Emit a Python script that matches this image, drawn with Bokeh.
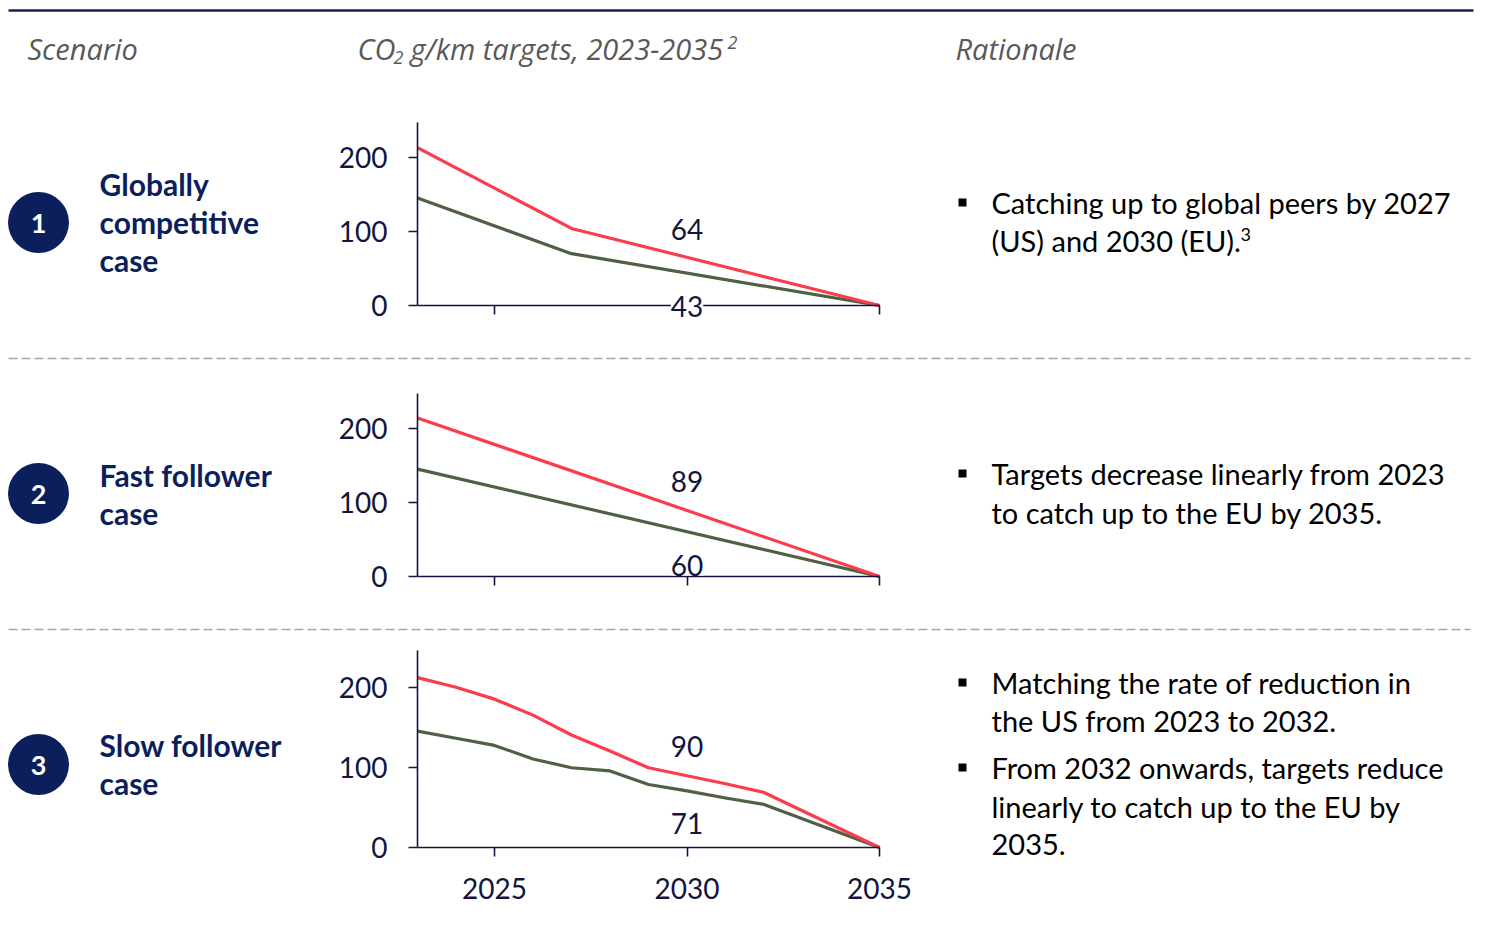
from bokeh.plotting import figure
from bokeh.layouts import column, row
from bokeh.models import Range1d, ColumnDataSource, LabelSet, FixedTicker
from bokeh.core.properties import value
from bokeh.embed import file_html
from bokeh.resources import INLINE

# ---------------- data ----------------
header_scenario = "Scenario"
header_chart = ["CO", "2", "g/km targets, 2023-2035", "2"]
header_rationale = "Rationale"

scenario_numbers = ["1", "2", "3"]
scenario_names = [["Globally", "competitive", "case"],
                  ["Fast follower", "case"],
                  ["Slow follower", "case"]]

rationale = [
    [["Catching up to global peers by 2027", "(US) and 2030 (EU)."]],
    [["Targets decrease linearly from 2023", "to catch up to the EU by 2035."]],
    [["Matching the rate of reduction in", "the US from 2023 to 2032."],
     ["From 2032 onwards, targets reduce", "linearly to catch up to the EU by", "2035."]],
]
footnote_row1 = "3"

years_1 = [2023, 2027, 2035]
red_1 = [213, 104, 0]
green_1 = [145, 70, 0]

years_2 = [2023, 2035]
red_2 = [214, 0]
green_2 = [145, 0]

years_3 = [2023, 2024, 2025, 2026, 2027, 2028, 2029, 2030, 2031, 2032, 2035]
red_3 = [213, 201, 186, 166, 141, 121, 100, 90, 80, 69, 0]
green_3 = [146, 137, 128, 111, 100, 96, 79, 71, 62, 54, 0]

label_year = 2030
label_red = [64, 89, 90]
label_green = [43, 60, 71]

y_ticks = [0, 100, 200]
x_ticks = [2025, 2030, 2035]
X_START, X_END = 2023, 2035
Y_TOP = 247

# ---------------- style / layout ----------------
NAVY = "#0A1F5C"
AXIS = "#111540"
RED = "#FA3C4C"
GREEN = "#4F6044"
GREY_TXT = "#595959"
BODY_FONT = "Lato"
HEAD_FONT = "Open Sans"

W = 1485
LEFT_W, CHART_W, RIGHT_W = 330, 600, 555
HEADER_H, SEP_H = 108, 10
row_h = [244, 261, 285]
frame_top = [14, 31, 17]          # px from row top to top of y-axis
axis_px = [183, 183, 197]         # px height of the 0..Y_TOP axis
below_px = [26, 26, 60]           # frame extension below y=0
AXIS_LEFT = 87                    # px from chart left to y-axis
AXIS_W = 462                      # px width of the 2023..2035 axis
FRAME_W = 508                     # frame width incl. room for last tick label
circle_y = [114, 131, 131]
name_y0 = [75, 112, 111]
rat_y = [[[94, 132]], [[111, 150]], [[49, 87], [134, 173, 211]]]
LINE = 38


def text_fig(w, h, top=0, bottom=0):
    p = figure(width=w, height=h, x_range=Range1d(0, w), y_range=Range1d(h - bottom, top),
               x_axis_location=None, y_axis_location=None,
               output_backend="svg", toolbar_location=None, min_border=0,
               min_border_top=top, min_border_bottom=bottom)
    p.grid.visible = False
    p.outline_line_color = None
    return p


def txt(p, x, y, s, size, color="black", style="normal", font=BODY_FONT, align="left"):
    p.text(x=[x], y=[y], text=[s], text_font=value(font), text_font_size=value(size),
           text_font_style=style, text_color=color, text_align=align, text_baseline="middle")


# header
header = text_fig(W, HEADER_H)
header.line(x=[8, 1473], y=[10, 10], line_color="#14204F", line_width=2.5)
txt(header, 27, 48, header_scenario, "29px", GREY_TXT, "italic", HEAD_FONT)
txt(header, 357, 48, header_chart[0], "29px", GREY_TXT, "italic", HEAD_FONT)
txt(header, 393, 57, header_chart[1], "18px", GREY_TXT, "italic", HEAD_FONT)
txt(header, 410, 48, header_chart[2], "29px", GREY_TXT, "italic", HEAD_FONT)
txt(header, 727, 42, header_chart[3], "18px", GREY_TXT, "italic", HEAD_FONT)
txt(header, 955, 48, header_rationale, "29px", GREY_TXT, "italic", HEAD_FONT)


def sep_fig():
    p = text_fig(W, SEP_H)
    p.line(x=[8, 1470], y=[4, 4], line_color="#A6A6A6", line_width=1.5, line_dash="9 4")
    return p


series = [(years_1, red_1, green_1), (years_2, red_2, green_2), (years_3, red_3, green_3)]
x_end_frame = X_START + (X_END - X_START) * FRAME_W / AXIS_W

rows = []
for i in range(3):
    h = row_h[i]
    top = frame_top[i]
    bottom = h - top - axis_px[i] - below_px[i]
    y_start = -below_px[i] * Y_TOP / axis_px[i]

    # left
    lp = text_fig(LEFT_W, h, top, bottom)
    lp.scatter(x=[38], y=[circle_y[i]], size=61, marker="circle", fill_color=NAVY, line_color=None)
    txt(lp, 38, circle_y[i] + 1, scenario_numbers[i], "27px", "white", "bold", align="center")
    for k, s in enumerate(scenario_names[i]):
        txt(lp, 99, name_y0[i] + k * LINE, s, "30px", NAVY, "bold")

    # chart
    yrs, red, green = series[i]
    cp = figure(width=CHART_W, height=h, x_range=Range1d(X_START, x_end_frame),
                y_range=Range1d(y_start, Y_TOP),
                output_backend="svg", toolbar_location=None,
                min_border_left=AXIS_LEFT, min_border_right=CHART_W - AXIS_LEFT - FRAME_W,
                min_border_top=top, min_border_bottom=bottom)
    cp.grid.visible = False
    cp.outline_line_color = None
    cp.line(yrs, green, line_color=GREEN, line_width=3.2, line_join="round")
    cp.line(yrs, red, line_color=RED, line_width=3.2, line_join="round")
    for ax in (cp.xaxis[0], cp.yaxis[0]):
        ax.axis_line_color = AXIS
        ax.axis_line_width = 1.6
        ax.major_tick_line_color = AXIS
        ax.major_tick_line_width = 1.6
        ax.major_tick_out = 9
        ax.major_tick_in = 0
        ax.minor_tick_line_color = None
        ax.major_label_text_font = BODY_FONT
        ax.major_label_text_font_size = "28px"
        ax.major_label_text_color = AXIS
    cp.yaxis.ticker = FixedTicker(ticks=y_ticks)
    cp.yaxis.bounds = (0, Y_TOP)
    cp.yaxis.major_label_standoff = 21
    cp.xaxis.ticker = FixedTicker(ticks=x_ticks)
    cp.xaxis.bounds = (X_START, X_END)
    cp.xaxis.fixed_location = 0
    if i == 2:
        cp.xaxis.major_label_standoff = 21
    else:
        cp.xaxis.major_label_text_font_size = "1px"
        cp.xaxis.major_label_text_alpha = 0
        cp.xaxis.major_label_standoff = 0
    src_r = ColumnDataSource(dict(x=[label_year], y=[label_red[i]], t=[str(label_red[i])]))
    src_g = ColumnDataSource(dict(x=[label_year], y=[label_green[i]], t=[str(label_green[i])]))
    for src, off in ((src_r, 29), (src_g, -33)):
        cp.add_layout(LabelSet(x="x", y="y", text="t", source=src, y_offset=off,
                               text_align="center", text_baseline="middle",
                               text_font=value(BODY_FONT), text_font_size=value("28px"),
                               text_color=AXIS, background_fill_color="white"))

    # right
    rp = text_fig(RIGHT_W, h, top, bottom)
    for para, ys in zip(rationale[i], rat_y[i]):
        rp.scatter(x=[32], y=[ys[0]], size=8, marker="square", fill_color="black", line_color=None)
        for s, yy in zip(para, ys):
            txt(rp, 61, yy, s, "29px", "black")
    if i == 0:
        txt(rp, 310, 126, footnote_row1, "18px", "black")

    rows.append(row(lp, cp, rp))

layout = column(header, rows[0], sep_fig(), rows[1], sep_fig(), rows[2])

open("out.html", "w").write(file_html(layout, INLINE))
